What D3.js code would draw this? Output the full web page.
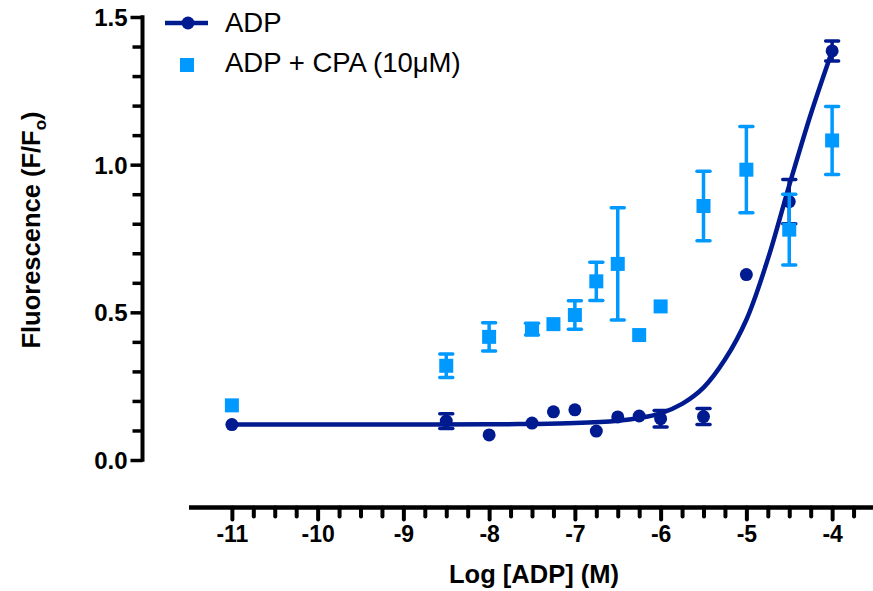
<!DOCTYPE html>
<html>
<head>
<meta charset="utf-8">
<script src="https://cdn.jsdelivr.net/npm/d3@7"></script>
<style>
  html, body { margin: 0; padding: 0; background: #fff; }
  svg { display: block; font-family: "Liberation Sans", Arial, sans-serif; }
</style>
</head>
<body>
<svg id="chart" width="873" height="591"></svg>
<script>
// ---- Data ----
const logConc = [-11, -8.5, -8, -7.5, -7.25, -7, -6.75, -6.5, -6.25, -6, -5.5, -5, -4.5, -4];
const adpMean = [0.12, 0.132, 0.085, 0.125, 0.163, 0.17, 0.098, 0.146, 0.149, 0.14, 0.147, 0.628, 0.875, 1.385];
const adpErr  = [0, 0.025, 0, 0, 0, 0, 0, 0, 0, 0.028, 0.027, 0, 0.075, 0.034];
const cpaMean = [0.185, 0.319, 0.417, 0.443, 0.46, 0.491, 0.605, 0.664, 0.423, 0.52, 0.86, 0.983, 0.78, 1.082];
const cpaErr  = [0, 0.04, 0.048, 0.02, 0, 0.048, 0.065, 0.19, 0, 0, 0.118, 0.146, 0.12, 0.115];
// fitted ADP curve
const fitX = [-11, -10, -9, -8, -7.5, -7, -6.5, -6.25, -6, -5.75, -5.5, -5.25, -5, -4.75, -4.5, -4.25, -4];
const fitY = [0.12, 0.12, 0.12, 0.121, 0.122, 0.125, 0.133, 0.142, 0.158, 0.19, 0.245, 0.34, 0.475, 0.68, 0.93, 1.17, 1.385];
const xMajorTicks = [-11, -10, -9, -8, -7, -6, -5, -4];
const yMajorTicks = [0.0, 0.5, 1.0, 1.5];
const seriesNames = ["ADP", "ADP + CPA (10\u03BCM)"];
const xTitle = "Log [ADP] (M)";

const navy = "#001a8f";
const sky = "#0099ff";

const svg = d3.select("#chart");

const x = d3.scaleLinear().domain([-11.5, -3.5]).range([189, 875]);
const y = d3.scaleLinear().domain([0, 1.5]).range([460, 17]);

// ---- Y axis ----
const yMinor = d3.range(0, 1.5001, 0.1).map(v => +v.toFixed(2)).filter(v => !yMajorTicks.some(m => Math.abs(m - v) < 1e-6));
const yAxisG = svg.append("g").attr("transform", "translate(142.5,0)");
yAxisG.call(d3.axisLeft(y).tickValues(yMinor).tickSize(10).tickFormat(""))
  .call(g => g.select(".domain").remove())
  .call(g => g.selectAll("line").attr("stroke", "#000").attr("stroke-width", 3.5));
const yMaj = svg.append("g").attr("transform", "translate(142.5,0)");
yMaj.call(d3.axisLeft(y).tickValues(yMajorTicks).tickSize(12).tickPadding(3).tickFormat(d3.format(".1f")))
  .call(g => g.select(".domain").remove())
  .call(g => g.selectAll("line").attr("stroke", "#000").attr("stroke-width", 3.5))
  .call(g => g.selectAll("text").attr("fill", "#000").attr("font-size", 24).attr("font-weight", "bold")
        .attr("font-family", "Liberation Sans, Arial, sans-serif").attr("dy", "0.36em"));
svg.append("line").attr("x1", 142.5).attr("x2", 142.5).attr("y1", y(1.5) - 1.7).attr("y2", y(0) + 1.7)
  .attr("stroke", "#000").attr("stroke-width", 4);

// ---- X axis ----
const xMinor = d3.range(-11, -3.74, 0.25).filter(v => !xMajorTicks.includes(v));
const xAxisY = 507.5;
svg.append("line").attr("x1", 189).attr("x2", 873).attr("y1", xAxisY).attr("y2", xAxisY)
  .attr("stroke", "#000").attr("stroke-width", 4.5);
const xMin = svg.append("g").attr("transform", `translate(0,${xAxisY})`);
xMin.call(d3.axisBottom(x).tickValues(xMinor).tickSize(9).tickFormat(""))
  .call(g => g.select(".domain").remove())
  .call(g => g.selectAll("line").attr("stroke", "#000").attr("stroke-width", 4).attr("stroke-linecap", "round"));
const xMaj = svg.append("g").attr("transform", `translate(0,${xAxisY})`);
xMaj.call(d3.axisBottom(x).tickValues(xMajorTicks).tickSize(12).tickPadding(6).tickFormat(d => d3.format("d")(d).replace("\u2212", "-")))
  .call(g => g.select(".domain").remove())
  .call(g => g.selectAll("line").attr("stroke", "#000").attr("stroke-width", 4).attr("stroke-linecap", "round"))
  .call(g => g.selectAll("text").attr("fill", "#000").attr("font-size", 23).attr("font-weight", "bold")
        .attr("font-family", "Liberation Sans, Arial, sans-serif"));

// ---- Titles ----
svg.append("text").attr("x", x(-7.5) + 2).attr("y", 583).attr("text-anchor", "middle")
  .attr("font-size", 25.5).attr("font-weight", "bold").text(xTitle);
const yt = svg.append("text").attr("transform", "translate(40,230) rotate(-90)").attr("text-anchor", "middle")
  .attr("font-size", 25.5).attr("font-weight", "bold");
yt.append("tspan").text("Fluorescence (F/F");
yt.append("tspan").attr("font-size", 17).attr("dy", 6).text("o");
yt.append("tspan").attr("dy", -6).text(")");

// ---- Fit curve ----
const line = d3.line().x(d => x(d[0])).y(d => y(d[1])).curve(d3.curveCatmullRom.alpha(0.5));
svg.append("path").datum(d3.zip(fitX, fitY)).attr("d", line)
  .attr("fill", "none").attr("stroke", navy).attr("stroke-width", 4.5);

function errorBars(mean, err, color) {
  const g = svg.append("g");
  logConc.forEach((c, i) => {
    if (!err[i]) return;
    const cx = x(c), top = y(mean[i] + err[i]), bot = y(mean[i] - err[i]);
    g.append("line").attr("x1", cx).attr("x2", cx).attr("y1", top).attr("y2", bot)
      .attr("stroke", color).attr("stroke-width", 3.5);
    [top, bot].forEach(yy => g.append("line").attr("x1", cx - 6.5).attr("x2", cx + 6.5).attr("y1", yy).attr("y2", yy)
      .attr("stroke", color).attr("stroke-width", 3.5).attr("stroke-linecap", "round"));
  });
}

// ADP points
errorBars(adpMean, adpErr, navy);
svg.append("g").selectAll("circle").data(d3.zip(logConc, adpMean)).join("circle")
  .attr("cx", d => x(d[0])).attr("cy", d => y(d[1])).attr("r", 6.5).attr("fill", navy);

// ADP + CPA points
errorBars(cpaMean, cpaErr, sky);
svg.append("g").selectAll("rect").data(d3.zip(logConc, cpaMean)).join("rect")
  .attr("x", d => x(d[0]) - 7).attr("y", d => y(d[1]) - 7).attr("width", 14).attr("height", 14).attr("fill", sky);

// ---- Legend ----
const lg = svg.append("g");
lg.append("line").attr("x1", 165).attr("x2", 208).attr("y1", 23).attr("y2", 23).attr("stroke", navy).attr("stroke-width", 4.5);
lg.append("circle").attr("cx", 188).attr("cy", 23).attr("r", 6.5).attr("fill", navy);
lg.append("text").attr("x", 225).attr("y", 32).attr("font-size", 27.5).attr("fill", "#000").text(seriesNames[0]);
lg.append("rect").attr("x", 180).attr("y", 58).attr("width", 14).attr("height", 14).attr("fill", sky);
lg.append("text").attr("x", 225).attr("y", 72).attr("font-size", 27.5).attr("fill", "#000").text(seriesNames[1]);
</script>
</body>
</html>
